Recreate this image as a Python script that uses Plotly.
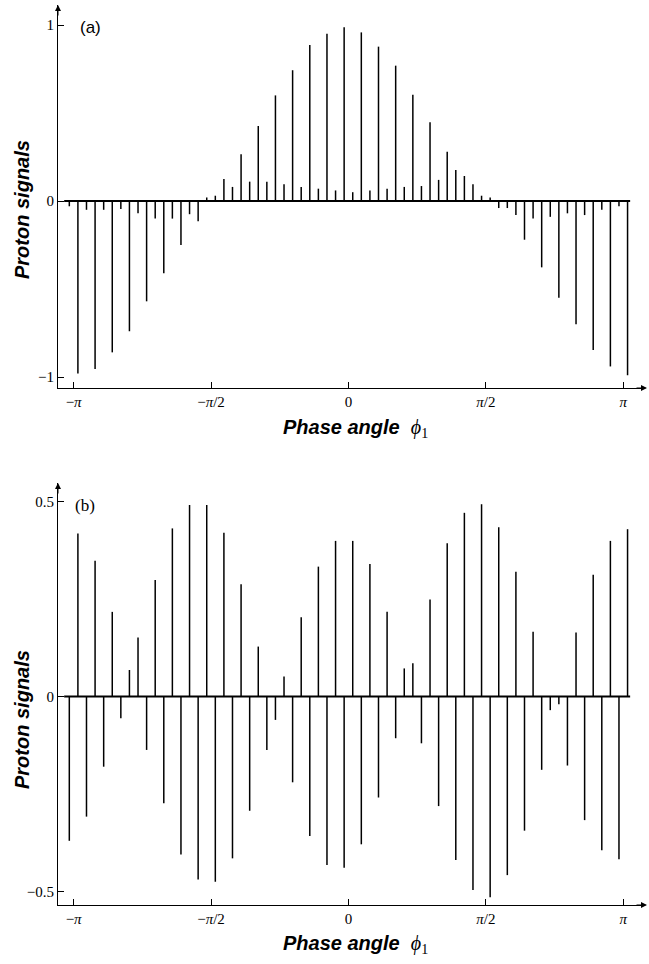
import numpy as np
import plotly.graph_objects as go

# Phase grid: 66 spectra, one every pi/32, centred on zero
STEP = np.pi / 32
phase = [-np.pi - STEP / 2 + k * STEP for k in range(66)]

# (a) proton signal amplitude for each phase setting
signal_a = [
    -0.03, -0.98, -0.05, -0.955, -0.05, -0.86, -0.045, -0.74, -0.07, -0.57,
    -0.10, -0.41, -0.10, -0.25, -0.075, -0.115, 0.02, 0.03, 0.125, 0.08,
    0.265, 0.11, 0.426, 0.11, 0.60, 0.095, 0.743, 0.08, 0.886, 0.07,
    0.95, 0.06, 0.987, 0.05, 0.958, 0.06, 0.877, 0.07, 0.769, 0.08,
    0.604, 0.085, 0.447, 0.12, 0.28, 0.176, 0.142, 0.095, 0.03, 0.02,
    -0.04, -0.04, -0.08, -0.22, -0.10, -0.377, -0.09, -0.55, -0.07, -0.70,
    -0.08, -0.847, -0.05, -0.94, -0.03, -0.99,
]

# (b) proton signal amplitude for each phase setting
signal_b = [
    -0.37, 0.418, -0.308, 0.348, -0.18, 0.217, -0.056, 0.068, 0.151, -0.137,
    0.299, -0.274, 0.431, -0.405, 0.491, -0.469, 0.491, -0.475, 0.42, -0.415,
    0.288, -0.293, 0.128, -0.137, -0.06, 0.051, -0.22, 0.203, -0.358, 0.333,
    -0.432, 0.399, -0.439, 0.399, -0.379, 0.34, -0.259, 0.217, -0.107, 0.072,
    0.085, -0.12, 0.249, -0.281, 0.393, -0.419, 0.471, -0.496, 0.493, -0.515,
    0.434, -0.458, 0.32, -0.344, 0.166, -0.188, -0.035, -0.02, -0.177, 0.164,
    -0.317, 0.312, -0.394, 0.399, -0.417, 0.429,
]

x_tickvals = [-np.pi, -np.pi / 2, 0, np.pi / 2, np.pi]
x_ticktext = ["\u2212<i>\u03c0</i>", "\u2212<i>\u03c0</i>/2", "0", "<i>\u03c0</i>/2", "<i>\u03c0</i>"]
ya_tickvals = [-1, 0, 1]
ya_ticktext = ["\u22121", "0", "1"]
yb_tickvals = [-0.5, 0, 0.5]
yb_ticktext = ["\u22120.5", "0", "0.5"]

W, H = 649, 964


def px_x(p):
    return p / W


def px_y(p):
    return 1 - p / H


def sticks(ph, vals):
    xs, ys = [], []
    for p, v in zip(ph, vals):
        xs += [p, p, None]
        ys += [0, v, None]
    return xs, ys


fig = go.Figure()

for vals, xa, ya in [(signal_a, "x", "y"), (signal_b, "x2", "y2")]:
    # baseline of the spectra
    fig.add_trace(go.Scatter(
        x=[phase[0] - STEP * 0.6, phase[-1] + STEP * 0.3], y=[0, 0],
        mode="lines", line=dict(color="black", width=1.8),
        xaxis=xa, yaxis=ya, showlegend=False, hoverinfo="skip"))
    sx, sy = sticks(phase, vals)
    fig.add_trace(go.Scatter(
        x=sx, y=sy, mode="lines", line=dict(color="black", width=1.5),
        xaxis=xa, yaxis=ya, showlegend=False))

XRANGE = [-3.32, 3.39]
x_common = dict(
    range=XRANGE, tickvals=x_tickvals, ticktext=x_ticktext,
    ticks="inside", ticklen=6, tickcolor="black", tickwidth=1,
    showline=True, linecolor="black", linewidth=1,
    showgrid=False, zeroline=False,
    tickfont=dict(family="Liberation Serif", size=15, color="black"),
    domain=[px_x(58), px_x(645)],
)
y_common = dict(
    ticks="inside", ticklen=6, tickcolor="black", tickwidth=1,
    showline=True, linecolor="black", linewidth=1,
    showgrid=False, zeroline=False,
    tickfont=dict(family="Liberation Serif", size=15, color="black"),
)

fig.update_layout(
    width=W, height=H, autosize=False,
    margin=dict(l=0, r=0, t=0, b=0),
    paper_bgcolor="white", plot_bgcolor="white",
    xaxis=dict(**x_common, anchor="y"),
    yaxis=dict(**y_common, anchor="x", range=[-(388 - 201) / 176, (201 - 5) / 176],
               domain=[px_y(388), px_y(5)], tickvals=ya_tickvals, ticktext=ya_ticktext),
    xaxis2=dict(**x_common, anchor="y2"),
    yaxis2=dict(**y_common, anchor="x2", range=[-(905 - 696.5) / 390, (696.5 - 483) / 390],
                domain=[px_y(905), px_y(483)], tickvals=yb_tickvals, ticktext=yb_ticktext),
)

ann = []
# axis arrowheads
for yline, ytop in [(388, 5), (905, 483)]:
    ann.append(dict(x=px_x(647), y=px_y(yline), xref="paper", yref="paper",
                    ax=-12, ay=0, showarrow=True, arrowhead=2, arrowsize=1.2,
                    arrowwidth=1, arrowcolor="black", text=""))
    ann.append(dict(x=px_x(58), y=px_y(ytop), xref="paper", yref="paper",
                    ax=0, ay=12, showarrow=True, arrowhead=2, arrowsize=1.2,
                    arrowwidth=1, arrowcolor="black", text=""))

title_x = "<b><i>Phase angle</i></b>  <span style='font-family:Liberation Serif'><i>\u03d5</i><sub>1</sub></span>"
for ycen in [428, 944]:
    ann.append(dict(x=px_x(355), y=px_y(ycen), xref="paper", yref="paper",
                    xanchor="center", yanchor="middle",
                    text=title_x, showarrow=False,
                    font=dict(family="Liberation Sans", size=20, color="black")))
for ycen in [210, 720]:
    ann.append(dict(x=px_x(22), y=px_y(ycen), xref="paper", yref="paper",
                    xanchor="center", yanchor="middle",
                    text="<b><i>Proton signals</i></b>", showarrow=False, textangle=-90,
                    font=dict(family="Liberation Sans", size=20, color="black")))

ann.append(dict(x=px_x(78), y=px_y(27), xref="paper", yref="paper",
                xanchor="left", yanchor="middle",
                text="(a)", showarrow=False,
                font=dict(family="Liberation Sans", size=17, color="black")))
ann.append(dict(x=px_x(73), y=px_y(505), xref="paper", yref="paper",
                xanchor="left", yanchor="middle",
                text="(b)", showarrow=False,
                font=dict(family="Liberation Serif", size=17, color="black")))

fig.update_layout(annotations=ann)
fig.write_html("out.html")
